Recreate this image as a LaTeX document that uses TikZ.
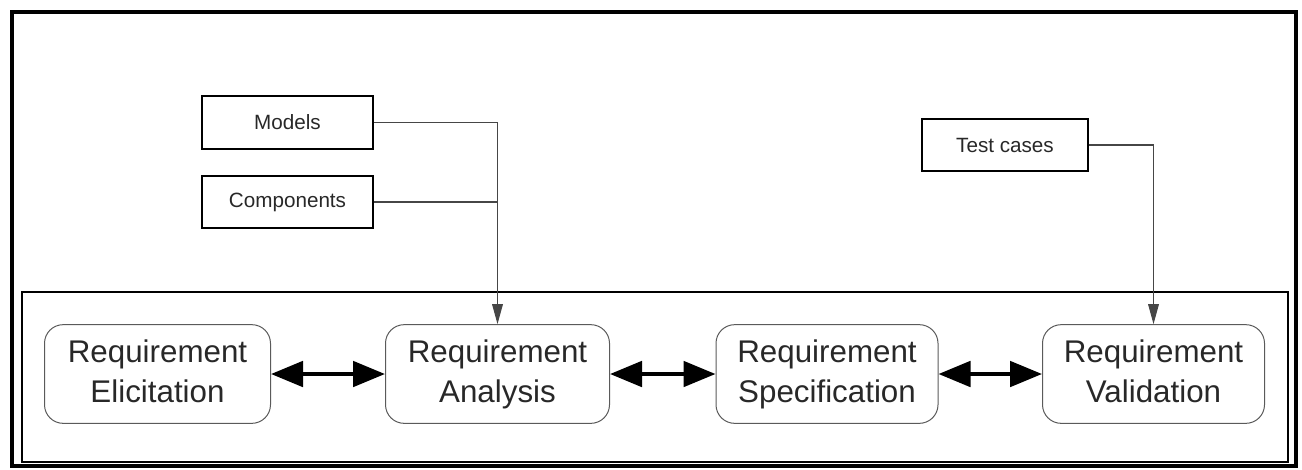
\documentclass[tikz,border=0pt]{standalone}
\usepackage{fontspec}
\setmainfont{Liberation Sans}
\usepackage{xcolor}
\usetikzlibrary{arrows.meta}

\begin{document}
\begin{tikzpicture}[x=0.75pt,y=0.75pt,yscale=-1,xscale=1,
    stage/.style={draw={rgb,255:red,90;green,90;blue,90}, line width=0.75, rounded corners=14pt,
        minimum width=166.5pt, minimum height=74pt, inner sep=0pt, align=center,
        text={rgb,255:red,40;green,40;blue,40}, font=\fontsize{23.5}{30}\selectfont},
    inbox/.style={draw, line width=1.4, minimum height=39.5pt, inner sep=0pt,
        text={rgb,255:red,40;green,40;blue,40}, font=\fontsize{15.5}{18}\selectfont},
    flow/.style={line width=3pt, {Triangle[length=24pt,width=19pt]}-{Triangle[length=24pt,width=19pt]}},
    feed/.style={draw={rgb,255:red,70;green,70;blue,70}, line width=0.9, -{Triangle[length=15pt,width=8pt]}}]
        \useasboundingbox (0,0) rectangle (1302,469);

        %Frames
        \draw [line width=2.6] (12,12) rectangle (1296,466) ;
        \draw [line width=1.5] (22,292) rectangle (1288,462) ;

        % Stage Nodes
        \node [stage, minimum width=169.5pt] (elicit) at (157.5,374) {\strut Requirement\\\strut Elicitation};
        \node [stage, minimum width=168pt] (analysis) at (497.5,374) {\strut Requirement\\\strut Analysis};
        \node [stage] (spec) at (827,374) {\strut Requirement\\\strut Specification};
        \node [stage] (valid) at (1153.5,374) {\strut Requirement\\\strut Validation};

        % Input Nodes
        \node [inbox, minimum width=128.25pt] (models) at (287.5,122.5) {Models};
        \node [inbox, minimum width=128.25pt] (comps) at (287.5,202) {Components};
        \node [inbox, minimum width=124.5pt] (tests) at (1005,145) {Test cases};

        %Double Arrows
        \draw [flow] (elicit) -- (analysis) ;
        \draw [flow] (analysis) -- (spec) ;
        \draw [flow] (spec) -- (valid) ;

        %Feed Lines
        \draw [feed] (models.east) -| (analysis.north) ;
        \draw [draw={rgb,255:red,70;green,70;blue,70}, line width=0.9] (comps.east) -- (comps.east -| analysis.north) ;
        \draw [feed] (tests.east) -| (valid.north) ;

\end{tikzpicture}
\end{document}
